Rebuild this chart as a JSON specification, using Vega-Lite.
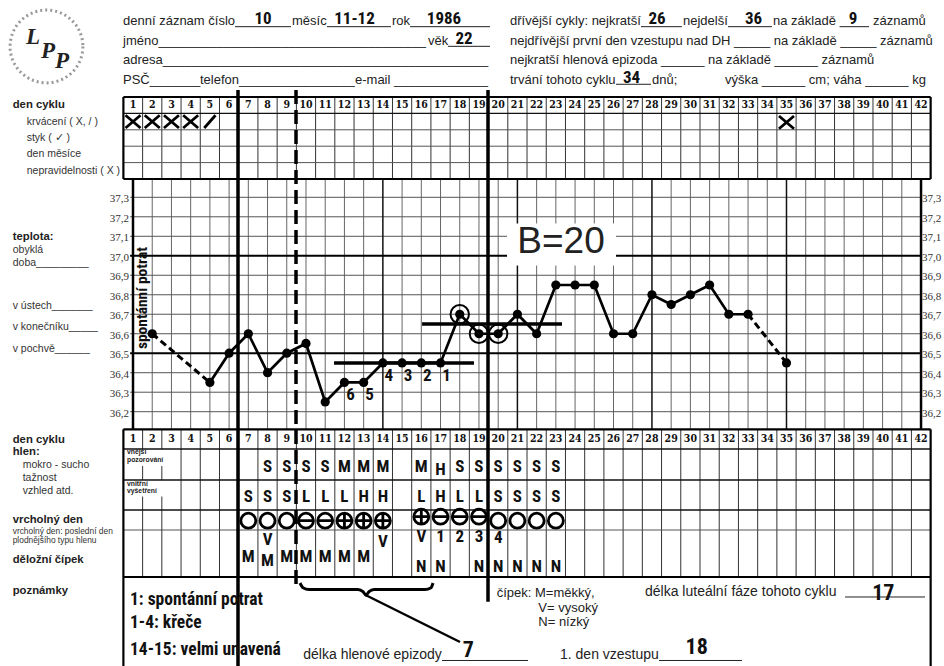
{
 "$schema": "https://vega.github.io/schema/vega-lite/v6.json",
 "width": 944, "height": 666, "padding": 0,
 "autosize": {"type": "none"},
 "background": "white",
 "config": {"view": {"stroke": null}},
 "datasets": {
  "days": [{"d":1},{"d":2},{"d":3},{"d":4},{"d":5},{"d":6},{"d":7},{"d":8},{"d":9},{"d":10},{"d":11},{"d":12},{"d":13},{"d":14},{"d":15},{"d":16},{"d":17},{"d":18},{"d":19},{"d":20},{"d":21},{"d":22},{"d":23},{"d":24},{"d":25},{"d":26},{"d":27},{"d":28},{"d":29},{"d":30},{"d":31},{"d":32},{"d":33},{"d":34},{"d":35},{"d":36},{"d":37},{"d":38},{"d":39},{"d":40},{"d":41},{"d":42}],
  "cols": [{"d":1.5},{"d":2.5},{"d":3.5},{"d":4.5},{"d":5.5},{"d":6.5},{"d":7.5},{"d":8.5},{"d":9.5},{"d":10.5},{"d":11.5},{"d":12.5},{"d":13.5},{"d":14.5},{"d":15.5},{"d":16.5},{"d":17.5},{"d":18.5},{"d":19.5},{"d":20.5},{"d":21.5},{"d":22.5},{"d":23.5},{"d":24.5},{"d":25.5},{"d":26.5},{"d":27.5},{"d":28.5},{"d":29.5},{"d":30.5},{"d":31.5},{"d":32.5},{"d":33.5},{"d":34.5},{"d":35.5},{"d":36.5},{"d":37.5},{"d":38.5},{"d":39.5},{"d":40.5},{"d":41.5}],
  "temps": [{"t":36.2,"s":"36,2"},{"t":36.3,"s":"36,3"},{"t":36.4,"s":"36,4"},{"t":36.5,"s":"36,5"},{"t":36.6,"s":"36,6"},{"t":36.7,"s":"36,7"},{"t":36.8,"s":"36,8"},{"t":36.9,"s":"36,9"},{"t":37.0,"s":"37,0"},{"t":37.1,"s":"37,1"},{"t":37.2,"s":"37,2"},{"t":37.3,"s":"37,3"}],
  "bbt": [{"d":2,"t":36.6},{"d":5,"t":36.35},{"d":6,"t":36.5},{"d":7,"t":36.6},{"d":8,"t":36.4},{"d":9,"t":36.5},{"d":10,"t":36.55},{"d":11,"t":36.25},{"d":12,"t":36.35},{"d":13,"t":36.35},{"d":14,"t":36.45},{"d":15,"t":36.45},{"d":16,"t":36.45},{"d":17,"t":36.45},{"d":18,"t":36.7},{"d":19,"t":36.6},{"d":20,"t":36.6},{"d":21,"t":36.7},{"d":22,"t":36.6},{"d":23,"t":36.85},{"d":24,"t":36.85},{"d":25,"t":36.85},{"d":26,"t":36.6},{"d":27,"t":36.6},{"d":28,"t":36.8},{"d":29,"t":36.75},{"d":30,"t":36.8},{"d":31,"t":36.85},{"d":32,"t":36.7},{"d":33,"t":36.7},{"d":35,"t":36.45}],
  "count": [{"d":12,"t":36.35,"s":"6"},{"d":13,"t":36.35,"s":"5"},{"d":14,"t":36.45,"s":"4"},{"d":15,"t":36.45,"s":"3"},{"d":16,"t":36.45,"s":"2"},{"d":17,"t":36.45,"s":"1"}],
  "cover": [{"d":11.46,"d2":18.74,"t":36.45},{"d":16.04,"d2":23.32,"t":36.65}],
  "box": [{"d":20.46,"d2":26.13,"t":37.166,"t2":36.95}],
  "frules": [
   {"d":0.5,"d2":42.5,"u":12,"u2":12,"k":"inner"},{"d":0.5,"d2":42.5,"u":13,"u2":13,"k":"inner"},{"d":0.5,"d2":42.5,"u":14,"u2":14,"k":"inner"},
   {"d":0.5,"d2":42.5,"u":24,"u2":24,"k":"inner"},
   {"d":1.5,"d2":1.5,"u":20,"u2":21,"k":"col"},{"d":1.5,"d2":1.5,"u":21.55,"u2":22,"k":"col"},{"d":1.5,"d2":1.5,"u":22.55,"u2":25,"k":"col"},
   {"d":2.5,"d2":2.5,"u":20,"u2":21,"k":"col"},{"d":2.5,"d2":2.5,"u":21.55,"u2":22,"k":"col"},{"d":2.5,"d2":2.5,"u":22.55,"u2":25,"k":"col"},
   {"d":0.5,"d2":42.5,"u":11,"u2":11,"k":"head"},{"d":0.5,"d2":42.5,"u":21,"u2":21,"k":"head"},{"d":0.5,"d2":42.5,"u":22,"u2":22,"k":"head"},{"d":0.5,"d2":42.5,"u":23,"u2":23,"k":"head"},
   {"d":0.5,"d2":42.5,"u":10,"u2":10,"k":"border"},{"d":0.5,"d2":42.5,"u":15,"u2":15,"k":"border"},{"d":0.5,"d2":0.5,"u":10,"u2":15,"k":"border"},{"d":42.5,"d2":42.5,"u":10,"u2":15,"k":"border"},
   {"d":0.5,"d2":42.5,"u":20,"u2":20,"k":"border"},{"d":0.5,"d2":42.5,"u":25,"u2":25,"k":"border"},{"d":0.5,"d2":0.5,"u":20,"u2":35,"k":"border"},{"d":42.5,"d2":42.5,"u":20,"u2":35,"k":"border"},
   {"d":6.463,"d2":6.463,"u":6.744,"u2":35,"k":"sep"},{"d":19.47,"d2":19.47,"u":6.744,"u2":27.775,"k":"sep"},
   {"d":9.481,"d2":9.481,"u":6.744,"u2":26.124,"k":"dash"},
   {"d":13.123,"d2":18.013,"u":27.05,"u2":32.303,"k":"stem"}
  ],
  "ulines": [
   {"d":6.307,"d2":9.22,"u":1.08},{"d":11.093,"d2":14.42,"u":1.08},{"d":15.412,"d2":19.574,"u":1.08},{"d":17.389,"d2":19.574,"u":2.08},
   {"d":27.43,"d2":29.56,"u":1.08},{"d":31.957,"d2":34.247,"u":1.08},{"d":37.76,"d2":39.293,"u":1.08},{"d":26.13,"d2":27.951,"u":4.08},
   {"d":17.077,"d2":21.551,"u":34.38},{"d":28.367,"d2":32.686,"u":34.38},{"d":38.045,"d2":42.207,"u":27.247}
  ],
  "brace": [{"o":1,"d":9.689,"u":25.674},{"o":2,"d":9.845,"u":26.2},{"o":3,"d":10.157,"u":26.4},{"o":4,"d":12.706,"u":26.4},{"o":5,"d":12.967,"u":26.65},{"o":6,"d":13.123,"u":27.05},{"o":7,"d":13.279,"u":26.65},{"o":8,"d":13.539,"u":26.4},{"o":9,"d":16.193,"u":26.4},{"o":10,"d":16.505,"u":26.2},{"o":11,"d":16.609,"u":25.674}],
  "syms": [
   {"d":1,"u":11.5,"sym":"X"},{"d":2,"u":11.5,"sym":"X"},{"d":3,"u":11.5,"sym":"X"},{"d":4,"u":11.5,"sym":"X"},{"d":5,"u":11.5,"sym":"/"},{"d":35,"u":11.55,"sym":"X"},
   {"d":7,"u":23.535,"sym":"O"},{"d":8,"u":23.535,"sym":"O"},{"d":9,"u":23.535,"sym":"O"},{"d":10,"u":23.535,"sym":"-"},{"d":11,"u":23.535,"sym":"-"},{"d":12,"u":23.535,"sym":"+"},{"d":13,"u":23.535,"sym":"+"},{"d":14,"u":23.535,"sym":"+"},
   {"d":16,"u":23.335,"sym":"+"},{"d":17,"u":23.335,"sym":"-"},{"d":18,"u":23.335,"sym":"-"},{"d":19,"u":23.335,"sym":"-"},
   {"d":20,"u":23.535,"sym":"O"},{"d":21,"u":23.535,"sym":"O"},{"d":22,"u":23.535,"sym":"O"},{"d":23,"u":23.535,"sym":"O"}
  ],
  "cells": [
   {"d":8,"u":21.57,"s":"S"},{"d":9,"u":21.57,"s":"S"},{"d":10,"u":21.57,"s":"S"},{"d":11,"u":21.57,"s":"S"},{"d":12,"u":21.57,"s":"M"},{"d":13,"u":21.57,"s":"M"},{"d":14,"u":21.57,"s":"M"},{"d":16,"u":21.57,"s":"M"},{"d":17,"u":21.68,"s":"H"},{"d":18,"u":21.57,"s":"S"},{"d":19,"u":21.57,"s":"S"},{"d":20,"u":21.57,"s":"S"},{"d":21,"u":21.57,"s":"S"},{"d":22,"u":21.57,"s":"S"},{"d":23,"u":21.57,"s":"S"},
   {"d":7,"u":22.56,"s":"S"},{"d":8,"u":22.56,"s":"S"},{"d":9,"u":22.56,"s":"S"},{"d":10,"u":22.56,"s":"L"},{"d":11,"u":22.56,"s":"L"},{"d":12,"u":22.56,"s":"L"},{"d":13,"u":22.56,"s":"H"},{"d":14,"u":22.56,"s":"H"},{"d":16,"u":22.56,"s":"L"},{"d":17,"u":22.56,"s":"H"},{"d":18,"u":22.56,"s":"L"},{"d":19,"u":22.56,"s":"L"},{"d":20,"u":22.56,"s":"S"},{"d":21,"u":22.56,"s":"S"},{"d":22,"u":22.56,"s":"S"},{"d":23,"u":22.56,"s":"S"},
   {"d":7,"u":24.57,"s":"M"},{"d":8,"u":24.21,"s":"V"},{"d":8,"u":24.67,"s":"M"},{"d":9,"u":24.57,"s":"M"},{"d":10,"u":24.57,"s":"M"},{"d":11,"u":24.57,"s":"M"},{"d":12,"u":24.57,"s":"M"},{"d":13,"u":24.57,"s":"M"},{"d":14,"u":24.25,"s":"V"},
   {"d":16,"u":24.14,"s":"V"},{"d":16,"u":24.78,"s":"N"},{"d":17,"u":24.14,"s":"1"},{"d":17,"u":24.78,"s":"N"},{"d":18,"u":24.14,"s":"2"},{"d":19,"u":24.14,"s":"3"},{"d":19,"u":24.78,"s":"N"},{"d":20,"u":24.17,"s":"4"},{"d":20,"u":24.78,"s":"N"},{"d":21,"u":24.78,"s":"N"},{"d":22,"u":24.78,"s":"N"},{"d":23,"u":24.78,"s":"N"}
  ],
  "hdr": [
   {"d":0.48,"u":1,"s":"denní záznam číslo"},
   {"d":9.273,"u":1,"s":"měsíc"},
   {"d":14.475,"u":1,"s":"rok"},
   {"d":0.48,"u":2,"s":"jméno_____________________________________"},
   {"d":16.348,"u":2,"s":"věk"},
   {"d":0.48,"u":3,"s":"adresa_____________________________________________"},
   {"d":0.48,"u":4,"s":"PSČ_______"},
   {"d":4.486,"u":4,"s":"telefon________________"},
   {"d":12.55,"u":4,"s":"e-mail _____________"},
   {"d":20.615,"u":1,"s":"dřívější cykly: nejkratší"},
   {"d":29.616,"u":1,"s":"nejdelší"},
   {"d":34.299,"u":1,"s":"na základě"},
   {"d":39.502,"u":1,"s":"záznamů"},
   {"d":20.615,"u":2,"s":"nejdřívější první den vzestupu nad DH _____ na základě _____ záznamů"},
   {"d":20.615,"u":3,"s":"nejkratší hlenová epizoda ______ na základě ______ záznamů"},
   {"d":20.615,"u":4,"s":"trvání tohoto cyklu"},
   {"d":28.003,"u":4,"s":"dnů;"},
   {"d":31.801,"u":4,"s":"výška ______ cm; váha ______ kg"}
  ],
  "hand": [
   {"d":7.764,"u":1,"s":"10"},{"d":12.524,"u":1,"s":"11-12"},{"d":17.181,"u":1,"s":"1986"},{"d":18.222,"u":2,"s":"22"},
   {"d":28.263,"u":1,"s":"26"},{"d":33.284,"u":1,"s":"36"},{"d":38.461,"u":1,"s":"9"},{"d":26.936,"u":4,"s":"34"}
  ],
  "lblb": [
   {"d":-5.259,"u":10.5,"s":"den cyklu"},{"d":-5.259,"u":16.159,"s":"teplota:"},{"d":-5.259,"u":20.543,"s":"den cyklu"},{"d":-5.259,"u":21.097,"s":"hlen:"},{"d":-5.259,"u":23.5,"s":"vrcholný den"},{"d":-5.259,"u":24.638,"s":"děložní čípek"},{"d":-5.259,"u":26.573,"s":"poznámky"}
  ],
  "lblr": [
   {"d":-4.531,"u":11.5,"s":"krvácení ( X, / )"},{"d":-4.531,"u":12.5,"s":"styk ( ✓ )"},{"d":-4.531,"u":13.5,"s":"den měsíce"},{"d":-4.531,"u":14.5,"s":"nepravidelnosti ( X )"},
   {"d":-5.259,"u":16.418,"s":"obyklá"},{"d":-5.259,"u":16.678,"s":"doba_________"},
   {"d":-5.259,"u":17.537,"s":"v ústech_______"},{"d":-5.259,"u":17.956,"s":"v konečníku_____"},{"d":-5.259,"u":18.396,"s":"v pochvě______"},
   {"d":-4.739,"u":21.516,"s":"mokro - sucho"},{"d":-4.739,"u":21.935,"s":"tažnost"},{"d":-4.739,"u":22.367,"s":"vzhled atd."}
  ],
  "lbls": [{"d":-5.259,"u":24.011,"s":"vrcholný den: poslední den"},{"d":-5.259,"u":24.223,"s":"plodnějšího typu hlenu"}],
  "tiny": [{"d":0.688,"u":21.11,"s":"vnější"},{"d":0.688,"u":21.36,"s":"pozorování"},{"d":0.688,"u":22.12,"s":"vnitřní"},{"d":0.688,"u":22.37,"s":"vyšetření"}],
  "notesr": [
   {"d":9.86,"u":33.764,"s":"délka hlenové epizody"},
   {"d":23.216,"u":33.764,"s":"1. den vzestupu"},
   {"d":27.639,"u":26.64,"s":"délka luteální fáze tohoto cyklu"}
  ],
  "notesc": [
   {"d":19.923,"u":26.85,"s":"čípek: M=měkký,"},
   {"d":22.087,"u":28.47,"s":"V= vysoký"},
   {"d":22.087,"u":30.09,"s":"N= nízký"}
  ],
  "notesh": [{"d":0.844,"u":27.584,"s":"1: spontánní potrat"},{"d":0.844,"u":30.169,"s":"1-4: křeče"},{"d":0.844,"u":33.202,"s":"14-15: velmi unavená"}],
  "notesn": [{"d":18.445,"u":33.95,"s":"7"},{"d":30.328,"u":33.65,"s":"18"},{"d":40.037,"u":27.584,"s":"17"}],
  "logo": [{"d":-3.501,"u":2.088}],
  "logot": [{"d":-4.203,"u":1.605,"s":"L"},{"d":-3.423,"u":2.317,"s":"P"},{"d":-2.694,"u":2.825,"s":"P"}]
 },
 "resolve": {"scale": {"y": "independent"}},
 "layer": [
  {
   "layer": [
    {"data": {"name": "days"}, "transform": [{"filter": "datum.d != 1 && datum.d != 14 && datum.d != 21 && datum.d != 28 && datum.d != 35 && datum.d != 42"}],
     "mark": {"type": "rule", "color": "#666", "strokeWidth": 1},
     "encoding": {"x": {"field": "d", "type": "quantitative", "scale": {"domain": [-5.92, 43.195], "nice": false, "zero": false}, "axis": null},
                  "y": {"datum": 37.394, "type": "quantitative", "scale": {"domain": [36.2, 37.3], "range": [411.7, 197.3], "nice": false, "zero": false}, "axis": null}, "y2": {"datum": 36.11}}},
    {"data": {"name": "temps"}, "transform": [{"filter": "datum.t != 37 && datum.t != 36.5"}],
     "mark": {"type": "rule", "color": "#555", "strokeWidth": 1},
     "encoding": {"x": {"datum": 0.85, "type": "quantitative", "scale": {"domain": [-5.92, 43.195], "nice": false, "zero": false}, "axis": null}, "x2": {"datum": 42},
                  "y": {"field": "t", "type": "quantitative", "scale": {"domain": [36.2, 37.3], "range": [411.7, 197.3], "nice": false, "zero": false}, "axis": null}}},
    {"data": {"name": "days"}, "transform": [{"filter": "datum.d == 14 || datum.d == 21 || datum.d == 28 || datum.d == 35"}],
     "mark": {"type": "rule", "color": "#111", "strokeWidth": 1.5},
     "encoding": {"x": {"field": "d", "type": "quantitative", "scale": {"domain": [-5.92, 43.195], "nice": false, "zero": false}, "axis": null},
                  "y": {"datum": 37.394, "type": "quantitative", "scale": {"domain": [36.2, 37.3], "range": [411.7, 197.3], "nice": false, "zero": false}, "axis": null}, "y2": {"datum": 36.11}}},
    {"data": {"name": "temps"}, "transform": [{"filter": "datum.t == 37 || datum.t == 36.5"}],
     "mark": {"type": "rule", "color": "#000", "strokeWidth": 2},
     "encoding": {"x": {"datum": 0.85, "type": "quantitative", "scale": {"domain": [-5.92, 43.195], "nice": false, "zero": false}, "axis": null}, "x2": {"datum": 42},
                  "y": {"field": "t", "type": "quantitative", "scale": {"domain": [36.2, 37.3], "range": [411.7, 197.3], "nice": false, "zero": false}, "axis": null}}},
    {"data": {"name": "days"}, "transform": [{"filter": "datum.d == 1 || datum.d == 42"}],
     "mark": {"type": "rule", "color": "#000", "strokeWidth": 2.5},
     "encoding": {"x": {"field": "d", "type": "quantitative", "scale": {"domain": [-5.92, 43.195], "nice": false, "zero": false}, "axis": null},
                  "y": {"datum": 37.394, "type": "quantitative", "scale": {"domain": [36.2, 37.3], "range": [411.7, 197.3], "nice": false, "zero": false}, "axis": null}, "y2": {"datum": 36.11}}},
    {"data": {"name": "temps"},
     "mark": {"type": "text", "font": "Liberation Serif", "fontSize": 11, "fill": "#333", "align": "right", "baseline": "middle", "dy": 2},
     "encoding": {"x": {"datum": 0.792, "type": "quantitative", "scale": {"domain": [-5.92, 43.195], "nice": false, "zero": false}, "axis": null},
                  "y": {"field": "t", "type": "quantitative", "scale": {"domain": [36.2, 37.3], "range": [411.7, 197.3], "nice": false, "zero": false}, "axis": null}, "text": {"field": "s"}}},
    {"data": {"name": "temps"},
     "mark": {"type": "text", "font": "Liberation Serif", "fontSize": 11, "fill": "#333", "align": "left", "baseline": "middle", "dy": 2},
     "encoding": {"x": {"datum": 42.051, "type": "quantitative", "scale": {"domain": [-5.92, 43.195], "nice": false, "zero": false}, "axis": null},
                  "y": {"field": "t", "type": "quantitative", "scale": {"domain": [36.2, 37.3], "range": [411.7, 197.3], "nice": false, "zero": false}, "axis": null}, "text": {"field": "s"}}}
   ]
  },
  {
   "layer": [
    {"data": {"name": "cols"},
     "mark": {"type": "rule", "color": "#333", "strokeWidth": 1},
     "encoding": {"x": {"field": "d", "type": "quantitative", "scale": {"domain": [-5.92, 43.195], "nice": false, "zero": false}, "axis": null},
                  "y": {"datum": 10, "type": "quantitative", "scale": {"domain": [0,1,4,10,15,20,21,22,23,24,25,35], "range": [5.43,25.1,84.1,97,179,429.3,449,480,510,530,577,666], "nice": false, "zero": false}, "axis": null}, "y2": {"datum": 15}}},
    {"data": {"name": "cols"}, "transform": [{"filter": "datum.d > 3"}],
     "mark": {"type": "rule", "color": "#333", "strokeWidth": 1},
     "encoding": {"x": {"field": "d", "type": "quantitative", "scale": {"domain": [-5.92, 43.195], "nice": false, "zero": false}, "axis": null},
                  "y": {"datum": 20, "type": "quantitative", "scale": {"domain": [0,1,4,10,15,20,21,22,23,24,25,35], "range": [5.43,25.1,84.1,97,179,429.3,449,480,510,530,577,666], "nice": false, "zero": false}, "axis": null}, "y2": {"datum": 25}}},
    {"data": {"name": "days"},
     "mark": {"type": "text", "font": "DejaVu Serif Condensed, DejaVu Serif", "fontSize": 10.5, "fontWeight": "bold", "fill": "#111", "align": "center", "baseline": "middle"},
     "encoding": {"x": {"field": "d", "type": "quantitative", "scale": {"domain": [-5.92, 43.195], "nice": false, "zero": false}, "axis": null},
                  "y": {"datum": 10.5, "type": "quantitative", "scale": {"domain": [0,1,4,10,15,20,21,22,23,24,25,35], "range": [5.43,25.1,84.1,97,179,429.3,449,480,510,530,577,666], "nice": false, "zero": false}, "axis": null}, "text": {"field": "d", "type": "quantitative", "format": "d"}}},
    {"data": {"name": "days"},
     "mark": {"type": "text", "font": "DejaVu Serif Condensed, DejaVu Serif", "fontSize": 10.5, "fontWeight": "bold", "fill": "#111", "align": "center", "baseline": "middle"},
     "encoding": {"x": {"field": "d", "type": "quantitative", "scale": {"domain": [-5.92, 43.195], "nice": false, "zero": false}, "axis": null},
                  "y": {"datum": 20.5, "type": "quantitative", "scale": {"domain": [0,1,4,10,15,20,21,22,23,24,25,35], "range": [5.43,25.1,84.1,97,179,429.3,449,480,510,530,577,666], "nice": false, "zero": false}, "axis": null}, "text": {"field": "d", "type": "quantitative", "format": "d"}}}
   ]
  },
  {
   "encoding": {
    "x": {"field": "d", "type": "quantitative", "scale": {"domain": [-5.92, 43.195], "nice": false, "zero": false}, "axis": null},
    "y": {"field": "u", "type": "quantitative", "scale": {"domain": [0,1,4,10,15,20,21,22,23,24,25,35], "range": [5.43,25.1,84.1,97,179,429.3,449,480,510,530,577,666], "nice": false, "zero": false}, "axis": null}
   },
   "layer": [
    {"data": {"name": "frules"}, "transform": [{"filter": "datum.k == 'inner'"}], "mark": {"type": "rule", "color": "#555", "strokeWidth": 1}, "encoding": {"x2": {"field": "d2"}, "y2": {"field": "u2"}}},
    {"data": {"name": "frules"}, "transform": [{"filter": "datum.k == 'col'"}], "mark": {"type": "rule", "color": "#333", "strokeWidth": 1}, "encoding": {"x2": {"field": "d2"}, "y2": {"field": "u2"}}},
    {"data": {"name": "frules"}, "transform": [{"filter": "datum.k == 'head'"}], "mark": {"type": "rule", "color": "#111", "strokeWidth": 1.3}, "encoding": {"x2": {"field": "d2"}, "y2": {"field": "u2"}}},
    {"data": {"name": "frules"}, "transform": [{"filter": "datum.k == 'border'"}], "mark": {"type": "rule", "color": "#000", "strokeWidth": 2.2}, "encoding": {"x2": {"field": "d2"}, "y2": {"field": "u2"}}},
    {"data": {"name": "frules"}, "transform": [{"filter": "datum.k == 'sep'"}], "mark": {"type": "rule", "color": "#000", "strokeWidth": 3.5}, "encoding": {"x2": {"field": "d2"}, "y2": {"field": "u2"}}},
    {"data": {"name": "frules"}, "transform": [{"filter": "datum.k == 'dash'"}], "mark": {"type": "rule", "color": "#000", "strokeWidth": 3.5, "strokeDash": [14, 6]}, "encoding": {"x2": {"field": "d2"}, "y2": {"field": "u2"}}},
    {"data": {"name": "frules"}, "transform": [{"filter": "datum.k == 'stem'"}], "mark": {"type": "rule", "color": "#000", "strokeWidth": 2.5}, "encoding": {"x2": {"field": "d2"}, "y2": {"field": "u2"}}},
    {"data": {"name": "ulines"}, "mark": {"type": "rule", "color": "#222", "strokeWidth": 1}, "encoding": {"x2": {"field": "d2"}}},
    {"data": {"name": "brace"}, "mark": {"type": "line", "color": "#000", "strokeWidth": 3, "interpolate": "monotone"}, "encoding": {"order": {"field": "o"}}},
    {"data": {"name": "syms"},
     "mark": {"type": "point", "filled": false, "stroke": "#000", "strokeWidth": 2.8, "size": 225, "opacity": 1},
     "encoding": {"shape": {"field": "sym", "type": "nominal", "legend": null, "scale": {"domain": ["X", "/", "O", "-", "+"], "range": [
       "M-1,-0.85L1,0.85M-1,0.85L1,-0.85",
       "M-0.75,0.85L0.75,-0.85",
       "M1,0C1,0.5523,0.5523,1,0,1C-0.5523,1,-1,0.5523,-1,0C-1,-0.5523,-0.5523,-1,0,-1C0.5523,-1,1,-0.5523,1,0Z",
       "M1,0C1,0.5523,0.5523,1,0,1C-0.5523,1,-1,0.5523,-1,0C-1,-0.5523,-0.5523,-1,0,-1C0.5523,-1,1,-0.5523,1,0ZM-1,0L1,0",
       "M1,0C1,0.5523,0.5523,1,0,1C-0.5523,1,-1,0.5523,-1,0C-1,-0.5523,-0.5523,-1,0,-1C0.5523,-1,1,-0.5523,1,0ZM-1,0L1,0M0,-1L0,1"]}}}},
    {"data": {"name": "logo"},
     "mark": {"type": "point", "filled": false, "stroke": "#999", "strokeWidth": 3, "strokeDash": [2, 3], "size": 5300, "opacity": 1, "shape": "M1,0C1,0.5523,0.5523,1,0,1C-0.5523,1,-1,0.5523,-1,0C-1,-0.5523,-0.5523,-1,0,-1C0.5523,-1,1,-0.5523,1,0Z"}},
    {"data": {"name": "logot"},
     "mark": {"type": "text", "font": "Liberation Serif", "fontSize": 23, "fontWeight": "bold", "fontStyle": "italic", "fill": "#222", "align": "center", "baseline": "middle"},
     "encoding": {"text": {"field": "s"}}},
    {"data": {"name": "hdr"},
     "mark": {"type": "text", "font": "Liberation Sans", "fontSize": 13, "fill": "#222", "align": "left", "baseline": "alphabetic"},
     "encoding": {"text": {"field": "s"}}},
    {"data": {"name": "hand"},
     "mark": {"type": "text", "font": "Liberation Sans Narrow, Roboto Condensed, Roboto", "fontSize": 17, "fontWeight": "bold", "fill": "#111", "align": "center", "baseline": "alphabetic", "dy": -1},
     "encoding": {"text": {"field": "s"}}},
    {"data": {"name": "lblb"},
     "mark": {"type": "text", "font": "Liberation Sans", "fontSize": 11.3, "fontWeight": "bold", "fill": "#222", "align": "left", "baseline": "middle"},
     "encoding": {"text": {"field": "s"}}},
    {"data": {"name": "lblr"},
     "mark": {"type": "text", "font": "Liberation Sans", "fontSize": 10.5, "fill": "#333", "align": "left", "baseline": "middle"},
     "encoding": {"text": {"field": "s"}}},
    {"data": {"name": "lbls"},
     "mark": {"type": "text", "font": "Liberation Sans", "fontSize": 8.4, "fill": "#333", "align": "left", "baseline": "middle"},
     "encoding": {"text": {"field": "s"}}},
    {"data": {"name": "tiny"},
     "mark": {"type": "text", "font": "Liberation Sans", "fontSize": 6.8, "fontWeight": "bold", "fill": "#222", "align": "left", "baseline": "middle"},
     "encoding": {"text": {"field": "s"}}},
    {"data": {"name": "cells"},
     "mark": {"type": "text", "font": "Liberation Sans Narrow, Roboto Condensed, Roboto", "fontSize": 17, "fontWeight": "bold", "fill": "#111", "align": "center", "baseline": "middle"},
     "encoding": {"text": {"field": "s"}}},
    {"data": {"name": "notesr"},
     "mark": {"type": "text", "font": "Liberation Sans", "fontSize": 14, "fill": "#222", "align": "left", "baseline": "middle"},
     "encoding": {"text": {"field": "s"}}},
    {"data": {"name": "notesc"},
     "mark": {"type": "text", "font": "Liberation Sans", "fontSize": 13, "fill": "#222", "align": "left", "baseline": "middle"},
     "encoding": {"text": {"field": "s"}}},
    {"data": {"name": "notesh"},
     "mark": {"type": "text", "font": "Liberation Sans Narrow, Roboto Condensed, Roboto", "fontSize": 17.5, "fontWeight": "bold", "fill": "#111", "align": "left", "baseline": "middle"},
     "encoding": {"text": {"field": "s"}}},
    {"data": {"name": "notesn"},
     "mark": {"type": "text", "font": "Liberation Sans Narrow, Roboto Condensed, Roboto", "fontSize": 22, "fontWeight": "bold", "fill": "#111", "align": "center", "baseline": "alphabetic"},
     "encoding": {"text": {"field": "s"}}}
   ]
  },
  {
   "encoding": {
    "x": {"field": "d", "type": "quantitative", "scale": {"domain": [-5.92, 43.195], "nice": false, "zero": false}, "axis": null},
    "y": {"field": "t", "type": "quantitative", "scale": {"domain": [36.2, 37.3], "range": [411.7, 197.3], "nice": false, "zero": false}, "axis": null}
   },
   "layer": [
    {"data": {"name": "cover"}, "mark": {"type": "rule", "color": "#000", "strokeWidth": 3.5}, "encoding": {"x2": {"field": "d2"}}},
    {"data": {"name": "box"}, "mark": {"type": "rect", "fill": "white"}, "encoding": {"x2": {"field": "d2"}, "y2": {"field": "t2"}}},
    {"data": {"values": [{"d": 23.27, "t": 37.072, "s": "B=20"}]}, "mark": {"type": "text", "font": "Liberation Sans", "fontSize": 37, "fill": "#222", "align": "center", "baseline": "middle"}, "encoding": {"text": {"field": "s"}}},
    {"data": {"name": "bbt"}, "transform": [{"filter": "datum.d <= 5"}], "mark": {"type": "line", "color": "#000", "strokeWidth": 3, "strokeDash": [7, 4]}},
    {"data": {"name": "bbt"}, "transform": [{"filter": "datum.d >= 33"}], "mark": {"type": "line", "color": "#000", "strokeWidth": 3, "strokeDash": [7, 4]}},
    {"data": {"name": "bbt"}, "transform": [{"filter": "datum.d >= 5 && datum.d <= 33"}], "mark": {"type": "line", "color": "#000", "strokeWidth": 2.7}},
    {"data": {"name": "bbt"}, "mark": {"type": "circle", "color": "#000", "size": 85, "opacity": 1}},
    {"data": {"name": "bbt"}, "transform": [{"filter": "datum.d >= 18 && datum.d <= 20"}],
     "mark": {"type": "point", "filled": false, "stroke": "#000", "strokeWidth": 2, "size": 340, "opacity": 1, "shape": "M1,0C1,0.5523,0.5523,1,0,1C-0.5523,1,-1,0.5523,-1,0C-1,-0.5523,-0.5523,-1,0,-1C0.5523,-1,1,-0.5523,1,0Z"}},
    {"data": {"name": "count"}, "mark": {"type": "text", "font": "Liberation Sans Narrow, Roboto Condensed, Roboto", "fontSize": 17, "fontWeight": "bold", "fill": "#111", "align": "center", "baseline": "middle", "dx": 6, "dy": 13}, "encoding": {"text": {"field": "s"}}},
    {"data": {"values": [{"d": 1.452, "t": 36.783, "s": "spontánní potrat"}]}, "mark": {"type": "text", "font": "Liberation Sans Narrow, Roboto Condensed, Roboto", "fontSize": 15.5, "fontWeight": "bold", "fill": "#111", "align": "center", "baseline": "middle", "angle": 270}, "encoding": {"text": {"field": "s"}}}
   ]
  }
 ]
}
